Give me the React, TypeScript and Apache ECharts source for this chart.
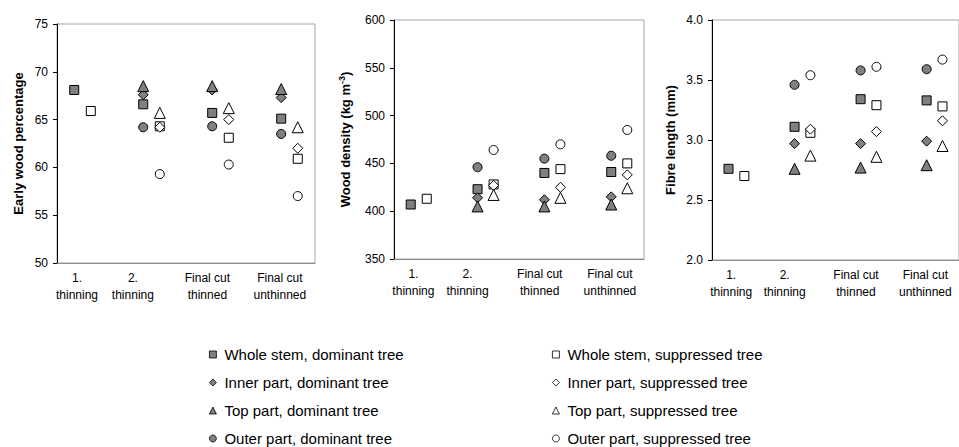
import React, { useEffect, useRef } from 'react';
import * as echarts from 'echarts';

const FONT = '"Liberation Sans", Arial, Helvetica, sans-serif';

// ---------- data ----------
const categories = ['1.\nthinning', '2.\nthinning', 'Final cut\nthinned', 'Final cut\nunthinned'];
const parts = ['Whole stem', 'Inner part', 'Top part', 'Outer part'];

// Early wood percentage
const ewWholeDom = [68.1, 66.6, 65.7, 65.1];
const ewWholeSup = [65.9, 64.3, 63.1, 60.9];
const ewInnerDom = [null, 67.6, 68.1, 67.3];
const ewInnerSup = [null, 64.2, 65.0, 62.0];
const ewTopDom = [null, 68.5, 68.5, 68.2];
const ewTopSup = [null, 65.7, 66.2, 64.2];
const ewOuterDom = [null, 64.2, 64.3, 63.5];
const ewOuterSup = [null, 59.3, 60.3, 57.0];

// Wood density (kg m-3)
const wdWholeDom = [407, 423, 440, 441];
const wdWholeSup = [413, 428, 444, 450];
const wdInnerDom = [null, 414, 412, 415];
const wdInnerSup = [null, 427, 425, 438];
const wdTopDom = [null, 405, 405, 407];
const wdTopSup = [null, 417, 414, 424];
const wdOuterDom = [null, 446, 455, 458];
const wdOuterSup = [null, 464, 470, 485];

// Fibre length (mm)
const flWholeDom = [2.76, 3.11, 3.34, 3.33];
const flWholeSup = [2.70, 3.06, 3.29, 3.28];
const flInnerDom = [null, 2.97, 2.97, 2.99];
const flInnerSup = [null, 3.09, 3.07, 3.16];
const flTopDom = [null, 2.76, 2.77, 2.79];
const flTopSup = [null, 2.87, 2.86, 2.95];
const flOuterDom = [null, 3.46, 3.58, 3.59];
const flOuterSup = [null, 3.54, 3.61, 3.67];

const yTicksEW = [50, 55, 60, 65, 70, 75];
const yTicksWD = [350, 400, 450, 500, 550, 600];
const yTicksFL = [2.0, 2.5, 3.0, 3.5, 4.0];

// ---------- layout / style ----------
const symbols = ['rect', 'diamond', 'triangle', 'circle'];
const symbolSizes = [9, 10, 11, 9];
const DOM_FILL = '#808080';
const OFFSET = 0.12;
const X_MIN = 0.63;
const X_MAX = 4.37;
const labelPos = [0.92, 1.73, 2.81, 3.86];

const panels = [
  {
    grid: { left: 57, top: 24, width: 258, height: 239 },
    name: 'Early wood percentage',
    nameGap: 32,
    ticks: yTicksEW,
    dec: 0,
    dom: [ewWholeDom, ewInnerDom, ewTopDom, ewOuterDom],
    sup: [ewWholeSup, ewInnerSup, ewTopSup, ewOuterSup],
  },
  {
    grid: { left: 394, top: 20, width: 250, height: 239 },
    name: '{a|Wood density (kg m}{sup|-3}{a|)}',
    nameGap: 40,
    ticks: yTicksWD,
    dec: 0,
    dom: [wdWholeDom, wdInnerDom, wdTopDom, wdOuterDom],
    sup: [wdWholeSup, wdInnerSup, wdTopSup, wdOuterSup],
  },
  {
    grid: { left: 712, top: 20, width: 255, height: 240 },
    name: 'Fibre length (mm)',
    nameGap: 35,
    ticks: yTicksFL,
    dec: 1,
    dom: [flWholeDom, flInnerDom, flTopDom, flOuterDom],
    sup: [flWholeSup, flInnerSup, flTopSup, flOuterSup],
  },
];

function buildOption() {
  const grids: any[] = [];
  const xAxes: any[] = [];
  const yAxes: any[] = [];
  const series: any[] = [];

  panels.forEach((p, pi) => {
    grids.push({
      ...p.grid,
      show: true,
      borderColor: '#a6a6a6',
      borderWidth: 1,
      backgroundColor: 'transparent',
      containLabel: false,
    });
    xAxes.push({
      type: 'value',
      gridIndex: pi,
      min: X_MIN,
      max: X_MAX,
      splitLine: { show: false },
      axisLine: { show: true, lineStyle: { color: '#8c8c8c', width: 1 } },
      axisTick: { show: false, customValues: labelPos },
      axisLabel: {
        customValues: labelPos,
        formatter: (v: number) => {
          let best = 0;
          labelPos.forEach((lp, i) => {
            if (Math.abs(lp - v) < Math.abs(labelPos[best] - v)) best = i;
          });
          return categories[best];
        },
        margin: 6,
        fontSize: 12,
        lineHeight: 17,
        color: '#000',
        fontFamily: FONT,
        align: 'center',
      },
    });
    const tmin = p.ticks[0];
    const tmax = p.ticks[p.ticks.length - 1];
    yAxes.push({
      type: 'value',
      gridIndex: pi,
      min: tmin,
      max: tmax,
      interval: p.ticks[1] - p.ticks[0],
      name: p.name,
      nameLocation: 'middle',
      nameGap: p.nameGap,
      nameTextStyle: {
        fontWeight: 'bold',
        fontSize: 13,
        color: '#000',
        fontFamily: FONT,
        rich: {
          a: { fontWeight: 'bold', fontSize: 13, color: '#000', fontFamily: FONT, lineHeight: 17 },
          sup: { fontWeight: 'bold', fontSize: 9, color: '#000', fontFamily: FONT, lineHeight: 9, verticalAlign: 'top' },
        },
      },
      splitLine: { show: false },
      axisLine: { show: true, lineStyle: { color: '#000', width: 1 } },
      axisTick: { show: true, inside: false, length: 4, lineStyle: { color: '#000' } },
      axisLabel: {
        margin: 9,
        fontSize: 12,
        color: '#000',
        fontFamily: FONT,
        formatter: (v: number) => v.toFixed(p.dec),
      },
    });

    parts.forEach((part, i) => {
      const mk = (vals: (number | null)[], dominant: boolean) => ({
        type: 'scatter',
        name: `${part}, ${dominant ? 'dominant' : 'suppressed'} tree`,
        xAxisIndex: pi,
        yAxisIndex: pi,
        symbol: symbols[i],
        symbolSize: symbolSizes[i],
        itemStyle: {
          color: dominant ? DOM_FILL : '#ffffff',
          borderColor: '#000',
          borderWidth: 1,
          opacity: 1,
        },
        emphasis: { disabled: true },
        data: vals
          .map((v, c) => (v == null ? null : [c + 1 + (dominant ? -OFFSET : OFFSET), v]))
          .filter((d) => d !== null),
      });
      series.push(mk(p.dom[i], true));
      series.push(mk(p.sup[i], false));
    });
  });

  const legendCommon = {
    orient: 'vertical',
    top: 347,
    height: 100,
    padding: 0,
    itemWidth: 7,
    itemHeight: 7,
    itemGap: 13,
    selectedMode: false,
    itemStyle: { borderWidth: 0.8 },
    textStyle: { fontSize: 15, color: '#000', fontFamily: FONT, padding: [0, 0, 0, 3] },
  };

  return {
    animation: false,
    backgroundColor: '#ffffff',
    textStyle: { fontFamily: FONT },
    grid: grids,
    xAxis: xAxes,
    yAxis: yAxes,
    legend: [
      { ...legendCommon, left: 209, data: parts.map((p) => `${p}, dominant tree`) },
      { ...legendCommon, left: 552, data: parts.map((p) => `${p}, suppressed tree`) },
    ],
    series,
  };
}

export default function App() {
  const ref = useRef<HTMLDivElement>(null);
  useEffect(() => {
    if (!ref.current) return;
    const chart = echarts.init(ref.current, undefined, { renderer: 'svg' });
    chart.setOption(buildOption() as any);
    return () => chart.dispose();
  }, []);
  return (
    <div
      ref={ref}
      style={{ position: 'fixed', left: 0, top: 0, width: 959, height: 447, background: '#fff' }}
    />
  );
}
